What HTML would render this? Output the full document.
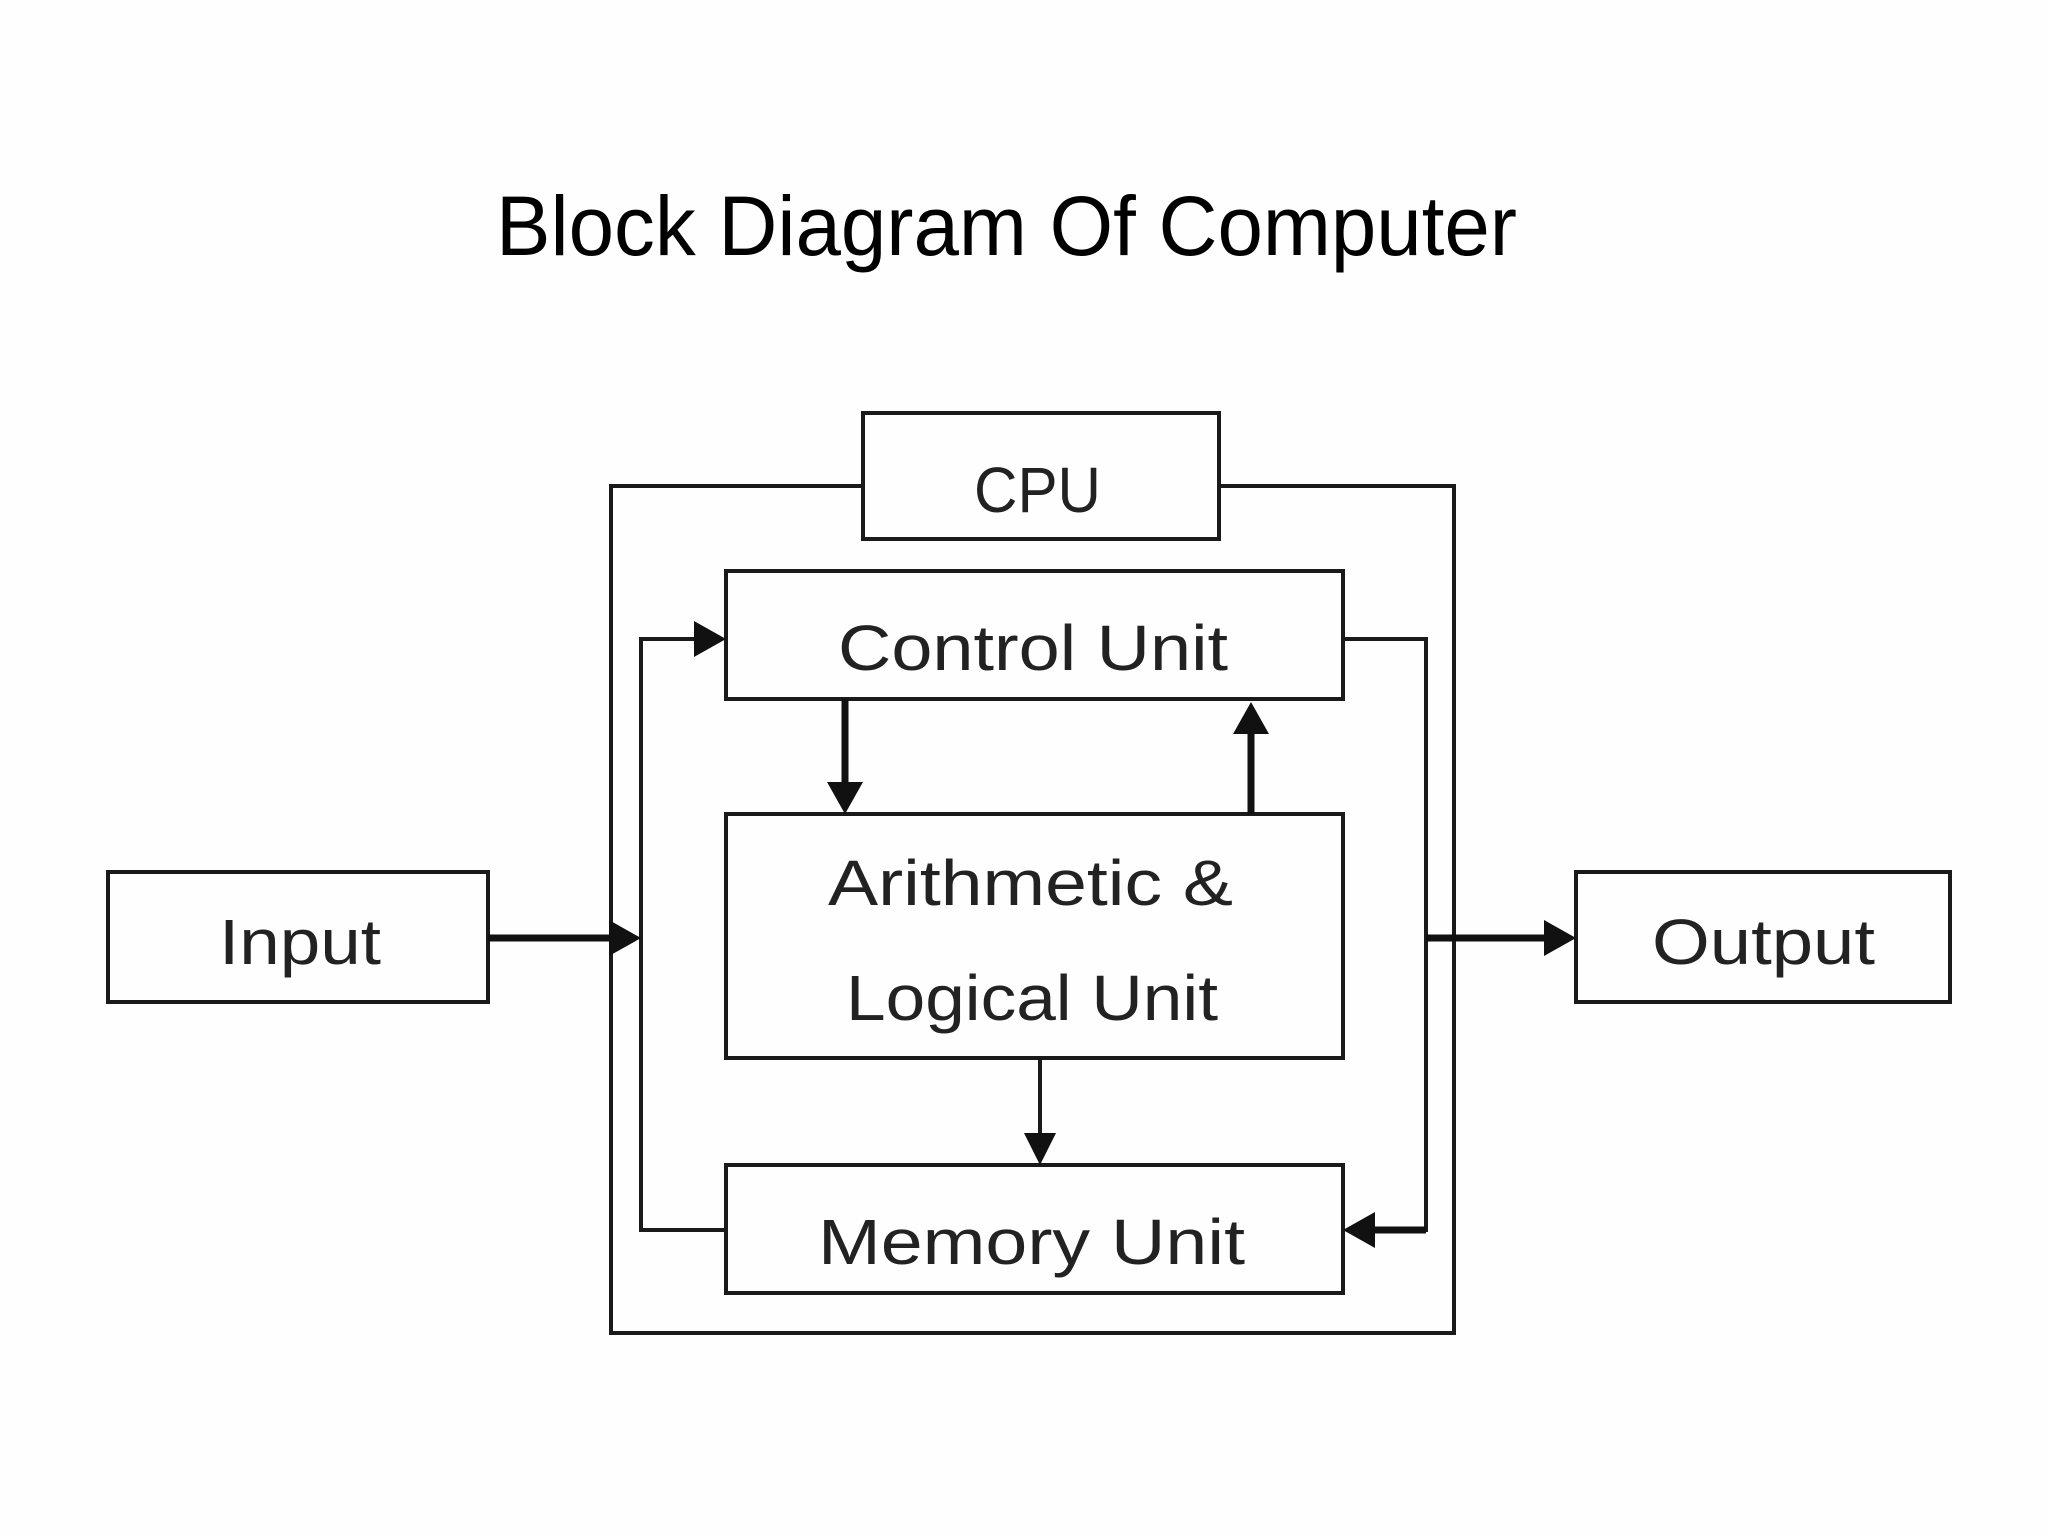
<!DOCTYPE html>
<html><head><style>html,body{margin:0;padding:0;background:#fefefe;}svg{display:block}</style></head>
<body>
<svg width="2048" height="1536" viewBox="0 0 2048 1536" xmlns="http://www.w3.org/2000/svg">
<rect width="2048" height="1536" fill="#fefefe"/>
<text x="496" y="255" font-family="Liberation Sans, sans-serif" font-size="84" fill="#000" textLength="1021" lengthAdjust="spacingAndGlyphs">Block Diagram Of Computer</text>
<g fill="none" stroke="#1a1a1a" stroke-width="4">
<polyline points="863,486 611,486 611,1333 1454,1333 1454,486 1219,486"/>
<rect x="863" y="413" width="356" height="126"/>
<rect x="726" y="571" width="617" height="128"/>
<rect x="726" y="814" width="617" height="244"/>
<rect x="726" y="1165" width="617" height="128"/>
<rect x="108" y="872" width="380" height="130"/>
<rect x="1576" y="872" width="374" height="130"/>
<polyline points="726,1230 641,1230 641,639 700,639"/>
<polyline points="1343,639 1426,639 1426,1230 1370,1230"/>
<line x1="1040" y1="1058" x2="1040" y2="1140"/>
</g>
<g stroke="#111" stroke-width="7" fill="none">
<line x1="488" y1="938" x2="615" y2="938"/>
<line x1="1426" y1="938" x2="1550" y2="938"/>
<line x1="845" y1="699" x2="845" y2="790"/>
<line x1="1251" y1="814" x2="1251" y2="725"/>
<line x1="1426" y1="1230" x2="1370" y2="1230"/>
</g>
<g fill="#111">
<polygon points="641,938 609,920 609,956"/>
<polygon points="1576,938 1544,920 1544,956"/>
<polygon points="726,639 694,621 694,657"/>
<polygon points="845,814 827,782 863,782"/>
<polygon points="1251,702 1233,734 1269,734"/>
<polygon points="1040,1165 1024,1133 1056,1133"/>
<polygon points="1343,1230 1375,1212 1375,1248"/>
</g>
<g font-family="Liberation Sans, sans-serif" font-size="64" fill="#222" lengthAdjust="spacingAndGlyphs">
<text x="974" y="512" textLength="127" lengthAdjust="spacingAndGlyphs">CPU</text>
<text x="838" y="670" textLength="390" lengthAdjust="spacingAndGlyphs">Control Unit</text>
<text x="828" y="905" textLength="405" lengthAdjust="spacingAndGlyphs">Arithmetic &amp;</text>
<text x="846" y="1020" textLength="372" lengthAdjust="spacingAndGlyphs">Logical Unit</text>
<text x="219" y="964" textLength="162" lengthAdjust="spacingAndGlyphs">Input</text>
<text x="1652" y="964" textLength="223" lengthAdjust="spacingAndGlyphs">Output</text>
<text x="818" y="1264" textLength="427" lengthAdjust="spacingAndGlyphs">Memory Unit</text>
</g>
</svg>
</body></html>
